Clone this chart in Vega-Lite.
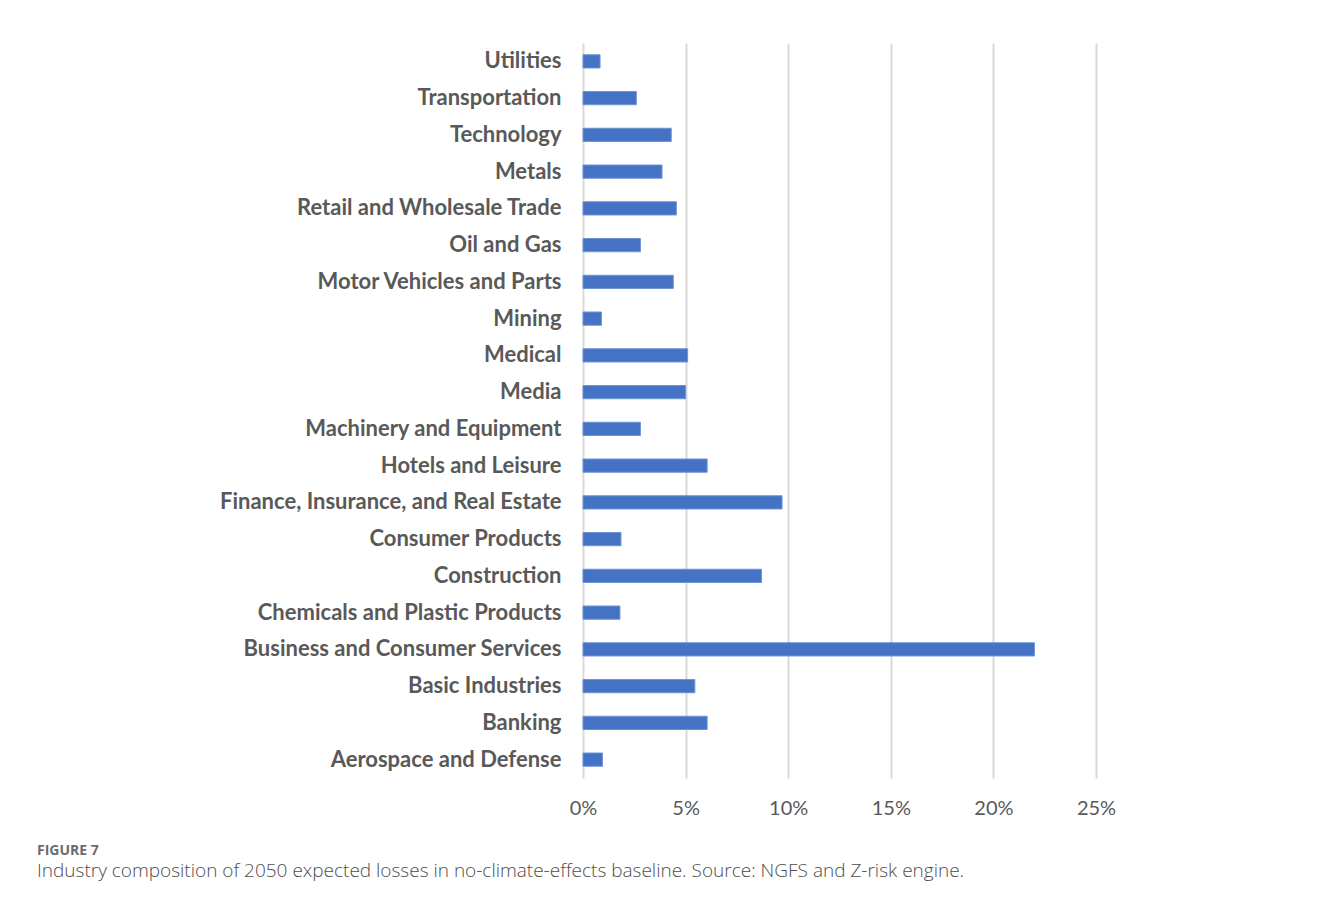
{
  "$schema": "https://vega.github.io/schema/vega-lite/v6.json",
  "autosize": {"type": "none"},
  "width": 513,
  "height": 735,
  "padding": {"left": 583, "top": 43, "right": 232, "bottom": 129},
  "background": "white",
  "data": {
    "values": [
      {"industry": "Utilities", "share": 0.0083},
      {"industry": "Transportation", "share": 0.026},
      {"industry": "Technology", "share": 0.043},
      {"industry": "Metals", "share": 0.0385},
      {"industry": "Retail and Wholesale Trade", "share": 0.0455},
      {"industry": "Oil and Gas", "share": 0.028},
      {"industry": "Motor Vehicles and Parts", "share": 0.044},
      {"industry": "Mining", "share": 0.009},
      {"industry": "Medical", "share": 0.051},
      {"industry": "Media", "share": 0.050},
      {"industry": "Machinery and Equipment", "share": 0.028},
      {"industry": "Hotels and Leisure", "share": 0.0605},
      {"industry": "Finance, Insurance, and Real Estate", "share": 0.097},
      {"industry": "Consumer Products", "share": 0.0185},
      {"industry": "Construction", "share": 0.087},
      {"industry": "Chemicals and Plastic Products", "share": 0.018},
      {"industry": "Business and Consumer Services", "share": 0.220},
      {"industry": "Basic Industries", "share": 0.0545},
      {"industry": "Banking", "share": 0.0605},
      {"industry": "Aerospace and Defense", "share": 0.0095}
    ]
  },
  "title": {
    "text": "FIGURE 7",
    "subtitle": "Industry composition of 2050 expected losses in no-climate-effects baseline. Source: NGFS and Z-risk engine.",
    "orient": "bottom",
    "anchor": "start",
    "frame": "group",
    "dx": -546,
    "offset": 26,
    "font": "Open Sans",
    "fontSize": 14,
    "fontWeight": "bold",
    "color": "#6b6b6b",
    "subtitleFont": "Open Sans",
    "subtitleFontSize": 19,
    "subtitleFontWeight": 300,
    "subtitleColor": "#4d4d4d",
    "subtitlePadding": 4
  },
  "mark": {"type": "bar", "color": "#4472C4", "stroke": "#6f93d6", "strokeWidth": 1},
  "encoding": {
    "y": {
      "field": "industry",
      "type": "nominal",
      "sort": null,
      "scale": {"paddingInner": 0.64, "paddingOuter": 0.32},
      "axis": {
        "title": null,
        "domain": false,
        "ticks": false,
        "labelPadding": 22,
        "labelFont": "Lato",
        "labelFontWeight": "bold",
        "labelFontSize": 22,
        "labelColor": "#595959",
        "labelLimit": 600
      }
    },
    "x": {
      "field": "share",
      "type": "quantitative",
      "scale": {"domain": [0, 0.25], "nice": false},
      "axis": {
        "title": null,
        "format": ".0%",
        "values": [0, 0.05, 0.1, 0.15, 0.2, 0.25],
        "domain": false,
        "ticks": false,
        "labelFlush": false,
        "labelPadding": 20,
        "labelFont": "Lato",
        "labelFontSize": 20,
        "labelColor": "#595959",
        "grid": true,
        "gridColor": "#d9d9d9",
        "gridWidth": 2
      }
    }
  },
  "config": {"view": {"stroke": null}}
}
